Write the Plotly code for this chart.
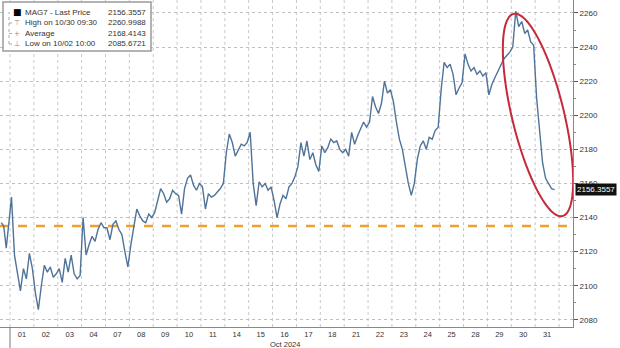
import plotly.graph_objects as go
import numpy as np

# ---------------- data ----------------
day_labels = ["01", "02", "03", "04", "07", "08", "09", "10", "11", "14", "15", "16",
              "17", "18", "21", "22", "23", "24", "25", "28", "29", "30", "31"]

sep30 = [2137, 2135, 2122, 2136]
oct01 = [2152, 2118, 2108, 2097, 2110, 2104, 2119, 2110]
oct02 = [2096, 2086, 2100, 2112, 2108, 2111, 2105, 2107]
oct03 = [2110, 2102, 2116, 2108, 2118, 2107, 2104, 2106]
oct04 = [2140, 2118, 2124, 2129, 2126, 2133, 2137, 2134]
oct07 = [2134, 2127, 2136, 2138, 2133, 2130, 2120, 2111]
oct08 = [2124, 2135, 2145, 2141, 2138, 2137, 2142, 2140]
oct09 = [2143, 2150, 2157, 2154, 2149, 2151, 2156, 2154]
oct10 = [2153, 2142, 2157, 2163, 2165, 2159, 2156, 2160]
oct11 = [2158, 2145, 2154, 2152, 2153, 2155, 2157, 2160]
oct14 = [2178, 2189, 2184, 2176, 2180, 2183, 2182, 2184]
oct15 = [2190, 2160, 2147, 2161, 2158, 2160, 2156, 2158]
oct16 = [2150, 2140, 2148, 2153, 2151, 2158, 2160, 2164]
oct17 = [2170, 2184, 2176, 2185, 2174, 2178, 2171, 2167]
oct18 = [2182, 2178, 2181, 2186, 2184, 2185, 2180, 2178]
oct21 = [2180, 2176, 2190, 2183, 2188, 2192, 2196, 2193]
oct22 = [2196, 2211, 2205, 2201, 2207, 2220, 2213, 2215]
oct23 = [2208, 2196, 2186, 2180, 2170, 2160, 2153, 2160]
oct24 = [2174, 2182, 2185, 2180, 2187, 2186, 2191, 2193]
oct25 = [2215, 2231, 2228, 2230, 2224, 2212, 2216, 2219]
oct28 = [2236, 2230, 2226, 2228, 2224, 2226, 2223, 2225]
oct29 = [2212, 2218, 2222, 2226, 2230, 2233, 2235, 2237]
oct30 = [2240, 2261, 2252, 2255, 2248, 2250, 2243, 2241]
oct31 = [2210, 2190, 2172, 2163, 2160, 2157, 2156.36]

oct_days = [oct01, oct02, oct03, oct04, oct07, oct08, oct09, oct10, oct11, oct14,
            oct15, oct16, oct17, oct18, oct21, oct22, oct23, oct24, oct25, oct28,
            oct29, oct30, oct31]

last_price = 2156.3557
ref_level = 2135

legend_rows = [("MAG7 - Last Price", "2156.3557"),
               ("High on 10/30 09:30", "2260.9988"),
               ("Average", "2168.4143"),
               ("Low on 10/02 10:00", "2085.6721")]

# ---------------- build positions ----------------
BARS = 8
xs, ys = [], []
for i, v in enumerate(sep30):
    xs.append(-0.42 + (i + 0.5) * 0.42 / len(sep30))
    ys.append(v)
for d, vals in enumerate(oct_days):
    for i, v in enumerate(vals):
        xs.append(d + (i + 0.5) / BARS)
        ys.append(v)

# ---------------- layout geometry ----------------
W, H = 620, 348
ML, MR, MT, MB = 0, 47, 0, 21
PW, PH = W - ML - MR, H - MT - MB
XR = [-0.419, 23.586]
YR = [2075.8, 2267.6]
FONT = "Liberation Sans"
TXT = "#333333"

fig = go.Figure()

fig.add_trace(go.Scatter(x=xs, y=ys, mode="lines",
                         line=dict(color="#4f7399", width=1.4),
                         hoverinfo="skip", showlegend=False))

# dashed reference level
fig.add_shape(type="line", xref="paper", yref="y", x0=0, x1=1, y0=ref_level, y1=ref_level,
              line=dict(color="#f0a030", width=2.6, dash="dash"), layer="below")

# vertical gridlines at day boundaries
for d in range(0, 24):
    fig.add_shape(type="line", xref="x", yref="paper", x0=d, x1=d, y0=0, y1=1,
                  line=dict(color="#c8c8c8", width=1, dash="dot"), layer="below")
# month separator below axis
fig.add_shape(type="line", xref="x", yref="paper", x0=0, x1=0, y0=0, y1=-MB / PH,
              line=dict(color="#777777", width=1))

# red ellipse (annotation) built in pixel space then mapped to data
sx = (XR[1] - XR[0]) / PW
sy = (YR[1] - YR[0]) / PH
cx_px, cy_px = 538, 115
a_px, b_px, th = 104, 26, np.deg2rad(13.6)
t = np.linspace(0, 2 * np.pi, 120)
ux, uy = np.sin(th), np.cos(th)
vx, vy = np.cos(th), -np.sin(th)
px = cx_px + a_px * np.cos(t) * ux + b_px * np.sin(t) * vx
py = cy_px + a_px * np.cos(t) * uy + b_px * np.sin(t) * vy
ex = XR[0] + px * sx
ey = YR[1] - py * sy
path = "M " + " L ".join(f"{a:.4f},{b:.3f}" for a, b in zip(ex, ey)) + " Z"
fig.add_shape(type="path", path=path, xref="x", yref="y",
              line=dict(color="#c52a3c", width=2))

# legend box
def pxp(x):
    return x / PW

def pyp(y):
    return 1 - y / PH

fig.add_shape(type="rect", xref="paper", yref="paper",
              x0=pxp(3), x1=pxp(151), y0=pyp(51), y1=pyp(2),
              line=dict(color="#9a9a9a", width=1.5), fillcolor="white")
row_y = [12.5, 23, 33.5, 44]
icons = ["■", "⊤", "+", "⊥"]
for (lab, val), ry, ic in zip(legend_rows, row_y, icons):
    fig.add_annotation(xref="paper", yref="paper", x=pxp(23), y=pyp(ry), text=lab,
                       xanchor="left", yanchor="middle", showarrow=False,
                       font=dict(family=FONT, size=8, color=TXT))
    fig.add_annotation(xref="paper", yref="paper", x=pxp(148), y=pyp(ry), text=val,
                       xanchor="right", yanchor="middle", showarrow=False,
                       font=dict(family=FONT, size=8, color=TXT))
    fig.add_annotation(xref="paper", yref="paper", x=pxp(17), y=pyp(ry), text=ic,
                       xanchor="center", yanchor="middle", showarrow=False,
                       font=dict(family="DejaVu Sans", size=9 if ic == "■" else 7,
                                 color="#000000" if ic == "■" else "#888888"))
fig.add_shape(type="line", xref="paper", yref="paper", x0=pxp(9), x1=pxp(9),
              y0=pyp(44), y1=pyp(12), line=dict(color="#aaaaaa", width=1, dash="dot"))
for ry in row_y[1:]:
    fig.add_shape(type="line", xref="paper", yref="paper", x0=pxp(9), x1=pxp(13),
                  y0=pyp(ry), y1=pyp(ry), line=dict(color="#aaaaaa", width=1, dash="dot"))

# last price tag
fig.add_annotation(xref="paper", yref="y", x=1.0, y=last_price, text="2156.3557",
                   xanchor="left", yanchor="middle", showarrow=False, xshift=2,
                   bgcolor="#111111", borderpad=1,
                   font=dict(family=FONT, size=8, color="white"))

# month label
fig.add_annotation(xref="x", yref="paper", x=11.5, y=-(17.5 / PH), text="Oct 2024",
                   xanchor="center", yanchor="middle", showarrow=False,
                   font=dict(family=FONT, size=7.5, color=TXT))

fig.update_layout(
    width=W, height=H,
    margin=dict(l=ML, r=MR, t=MT, b=MB),
    paper_bgcolor="white", plot_bgcolor="white",
    showlegend=False,
    font=dict(family=FONT, size=8, color=TXT),
    xaxis=dict(range=XR, showgrid=False, zeroline=False,
               tickmode="array", tickvals=[d + 0.5 for d in range(len(day_labels))],
               ticktext=day_labels, ticks="", ticklabelstandoff=0,
               showline=True, linecolor="#888888", linewidth=1,
               tickfont=dict(family=FONT, size=7.5, color=TXT)),
    yaxis=dict(range=YR, side="right", zeroline=False,
               tickmode="linear", tick0=2080, dtick=20,
               showgrid=True, gridcolor="#c0c0c0", griddash="dot", gridwidth=1,
               ticks="outside", ticklen=4, tickcolor="#555555",
               minor=dict(dtick=10, ticks="outside", ticklen=2, tickcolor="#888888", showgrid=False),
               showline=True, linecolor="#888888", linewidth=1,
               tickfont=dict(family=FONT, size=8, color=TXT)),
)

fig.write_html("out.html")
